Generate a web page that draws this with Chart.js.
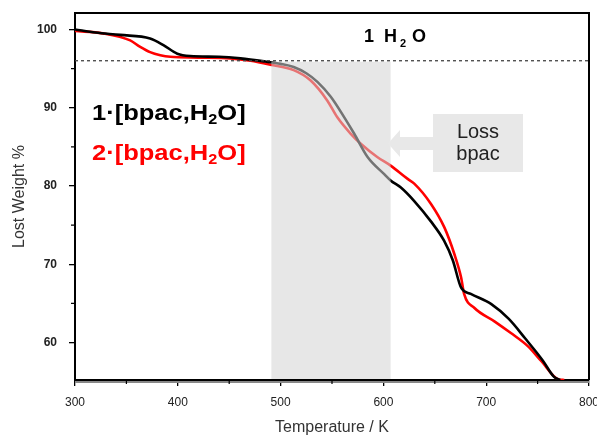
<!DOCTYPE html>
<html>
<head>
<meta charset="utf-8">
<script src="https://cdn.jsdelivr.net/npm/chart.js@4/dist/chart.umd.min.js"></script>
<style>
html,body{margin:0;padding:0;background:#fff;}
canvas{display:block;}
</style>
</head>
<body>
<canvas id="c" width="597" height="436"></canvas>
<script>
// ---- data ----
const temps1 = [300,320,344,373,386,399.5,412,440,461,485,500,512.7,525,535.8,548.8,561.8,571.5,584.6,600.8,607,617,629.8,646,659,667.5,675.6,685,705,722,738,755,766,772];
const weight1 = [100,99.6,99.3,98.85,98.0,96.9,96.6,96.5,96.3,95.9,95.6,95.2,94.4,93.3,91.4,88.8,86.7,83.7,81.5,80.7,79.8,78.1,75.5,73.0,70.5,67.0,66.2,64.9,63.0,60.5,57.7,55.6,55.2];
const temps2 = [300,327,353.7,363,373,383,392.7,420,451,470.7,490,512.7,529,545.5,555,568,578,594,607,623.6,630,646.3,659.3,669,675.6,678.5,688.6,708,724,740.7,753.7,770,776];
const weight2 = [99.8,99.5,98.6,97.8,97.1,96.7,96.5,96.4,96.3,96.0,95.5,94.8,93.5,90.9,88.8,86.7,85.4,83.7,82.6,80.9,80.3,77.7,74.7,71.3,68.3,66.2,64.4,62.7,61.2,59.5,57.6,55.3,55.2];
const xTicks = [300,400,500,600,700,800];
const yTicks = [60,70,80,90,100];
const xMinor = [350,450,550,650,750];
const yMinor = [65,75,85,95];
const waterLevel = 96;
const lossRange = [491,607];
const seriesLabels = ["1·[bpac,H2O]","2·[bpac,H2O]"];

const toPts = (xs, ys) => xs.map((x,i)=>({x:x,y:ys[i]}));

const FONT = "'Liberation Sans', Arial, sans-serif";

function drawSub(ctx, x, y, parts, size, color, sx){
  ctx.save();
  ctx.translate(x, y);
  ctx.scale(sx, 1);
  ctx.fillStyle = color;
  ctx.textBaseline = 'alphabetic';
  ctx.textAlign = 'left';
  let cx = 0;
  for (const [t, sub] of parts){
    if (sub){
      ctx.font = 'bold ' + Math.round(size*0.62) + 'px ' + FONT;
      ctx.fillText(t, cx, size*0.18);
    } else {
      ctx.font = 'bold ' + size + 'px ' + FONT;
      ctx.fillText(t, cx, 0);
    }
    cx += ctx.measureText(t).width;
  }
  ctx.restore();
}

const decor = {
  id:'decor',
  afterDraw(chart){
    const ctx = chart.ctx;
    const xs = chart.scales.x, ys = chart.scales.y;
    const a = chart.chartArea;
    ctx.save();
    // grey overlay (loss region)
    const gx0 = xs.getPixelForValue(lossRange[0]);
    const gx1 = xs.getPixelForValue(lossRange[1]);
    const gy0 = ys.getPixelForValue(waterLevel);
    ctx.fillStyle = 'rgba(212,212,212,0.55)';
    ctx.fillRect(gx0, gy0+1, gx1-gx0, a.bottom - gy0 - 2);
    // dashed water line
    ctx.strokeStyle = '#444';
    ctx.lineWidth = 1.3;
    ctx.setLineDash([3,3]);
    ctx.beginPath();
    ctx.moveTo(a.left, gy0); ctx.lineTo(a.right, gy0);
    ctx.stroke();
    ctx.setLineDash([]);
    // top & right border
    ctx.strokeStyle = '#000';
    ctx.lineWidth = 2;
    ctx.beginPath();
    ctx.moveTo(a.left, a.top); ctx.lineTo(a.right, a.top); ctx.lineTo(a.right, a.bottom);
    ctx.stroke();
    // grey line under bottom axis
    ctx.strokeStyle = '#888';
    ctx.lineWidth = 2;
    ctx.beginPath();
    ctx.moveTo(a.left, a.bottom+2); ctx.lineTo(a.right, a.bottom+2);
    ctx.stroke();
    // minor ticks
    ctx.strokeStyle = '#000';
    ctx.lineWidth = 1.2;
    ctx.beginPath();
    for (const v of xMinor){ const p = xs.getPixelForValue(v); ctx.moveTo(p, a.bottom); ctx.lineTo(p, a.bottom+4); }
    for (const v of yMinor){ const p = ys.getPixelForValue(v); ctx.moveTo(a.left, p); ctx.lineTo(a.left-4, p); }
    ctx.stroke();
    // Loss bpac box + arrow
    ctx.fillStyle = '#e8e8e8';
    ctx.fillRect(433, 114, 90, 58);
    ctx.beginPath();
    ctx.moveTo(433, 137); ctx.lineTo(400, 137); ctx.lineTo(400, 130);
    ctx.lineTo(388, 143.5); ctx.lineTo(400, 157); ctx.lineTo(400, 150); ctx.lineTo(433, 150);
    ctx.closePath();
    ctx.fill();
    ctx.fillStyle = '#222';
    ctx.font = '20px ' + FONT;
    ctx.textAlign = 'center';
    ctx.textBaseline = 'alphabetic';
    ctx.fillText('Loss', 478, 138);
    ctx.fillText('bpac', 478, 160);
    // 1 H2O
    ctx.fillStyle = '#000';
    ctx.textAlign = 'left';
    ctx.font = 'bold 18px ' + FONT;
    ctx.fillText('1', 364, 42);
    ctx.fillText('H', 384, 42);
    ctx.fillText('O', 412, 42);
    ctx.font = 'bold 11px ' + FONT;
    ctx.fillText('2', 400, 47);
    // series labels
    drawSub(ctx, 92, 120, [["1·[bpac,H",false],["2",true],["O]",false]], 22, '#000', 1.16);
    drawSub(ctx, 92, 160, [["2·[bpac,H",false],["2",true],["O]",false]], 22, '#ff0000', 1.16);
    ctx.restore();
  }
};

new Chart(document.getElementById('c'), {
  type:'line',
  data:{
    datasets:[
      {label:seriesLabels[0], data:toPts(temps1,weight1), borderColor:'#000', borderWidth:2.6, pointRadius:0, tension:0.4, cubicInterpolationMode:'monotone', fill:false},
      {label:seriesLabels[1], data:toPts(temps2,weight2), borderColor:'#ff0000', borderWidth:2.6, pointRadius:0, tension:0.4, cubicInterpolationMode:'monotone', fill:false}
    ]
  },
  options:{
    responsive:false,
    devicePixelRatio:1,
    animation:false,
    layout:{padding:{top:13,right:8,left:0,bottom:0}},
    plugins:{legend:{display:false}, tooltip:{enabled:false}},
    scales:{
      x:{
        type:'linear', min:300, max:800,
        afterBuildTicks:s=>{s.ticks = xTicks.map(v=>({value:v}));},
        afterFit:s=>{s.height = 56; s.paddingLeft = 0; s.paddingRight = 0;},
        grid:{drawOnChartArea:false, color:'#000', tickLength:6, lineWidth:1.3},
        border:{color:'#000', width:2},
        ticks:{color:'#222', font:{family:FONT, size:12}, padding:9, maxRotation:0},
        title:{display:true, text:'Temperature / K', color:'#333', font:{family:FONT, size:16, lineHeight:1}, padding:{top:0,bottom:0}}
      },
      y:{
        type:'linear', min:55.2, max:102.1,
        afterBuildTicks:s=>{s.ticks = yTicks.map(v=>({value:v}));},
        afterFit:s=>{s.width = 75; s.paddingTop = 0; s.paddingBottom = 0;},
        grid:{drawOnChartArea:false, color:'#000', tickLength:6, lineWidth:1.3},
        border:{color:'#000', width:2},
        ticks:{color:'#222', font:{family:FONT, size:12, weight:'bold'}, padding:12},
        title:{display:true, text:'Lost Weight %', color:'#333', font:{family:FONT, size:16, lineHeight:1}, padding:{top:12,bottom:0}}
      }
    }
  },
  plugins:[decor]
});
</script>
</body>
</html>
